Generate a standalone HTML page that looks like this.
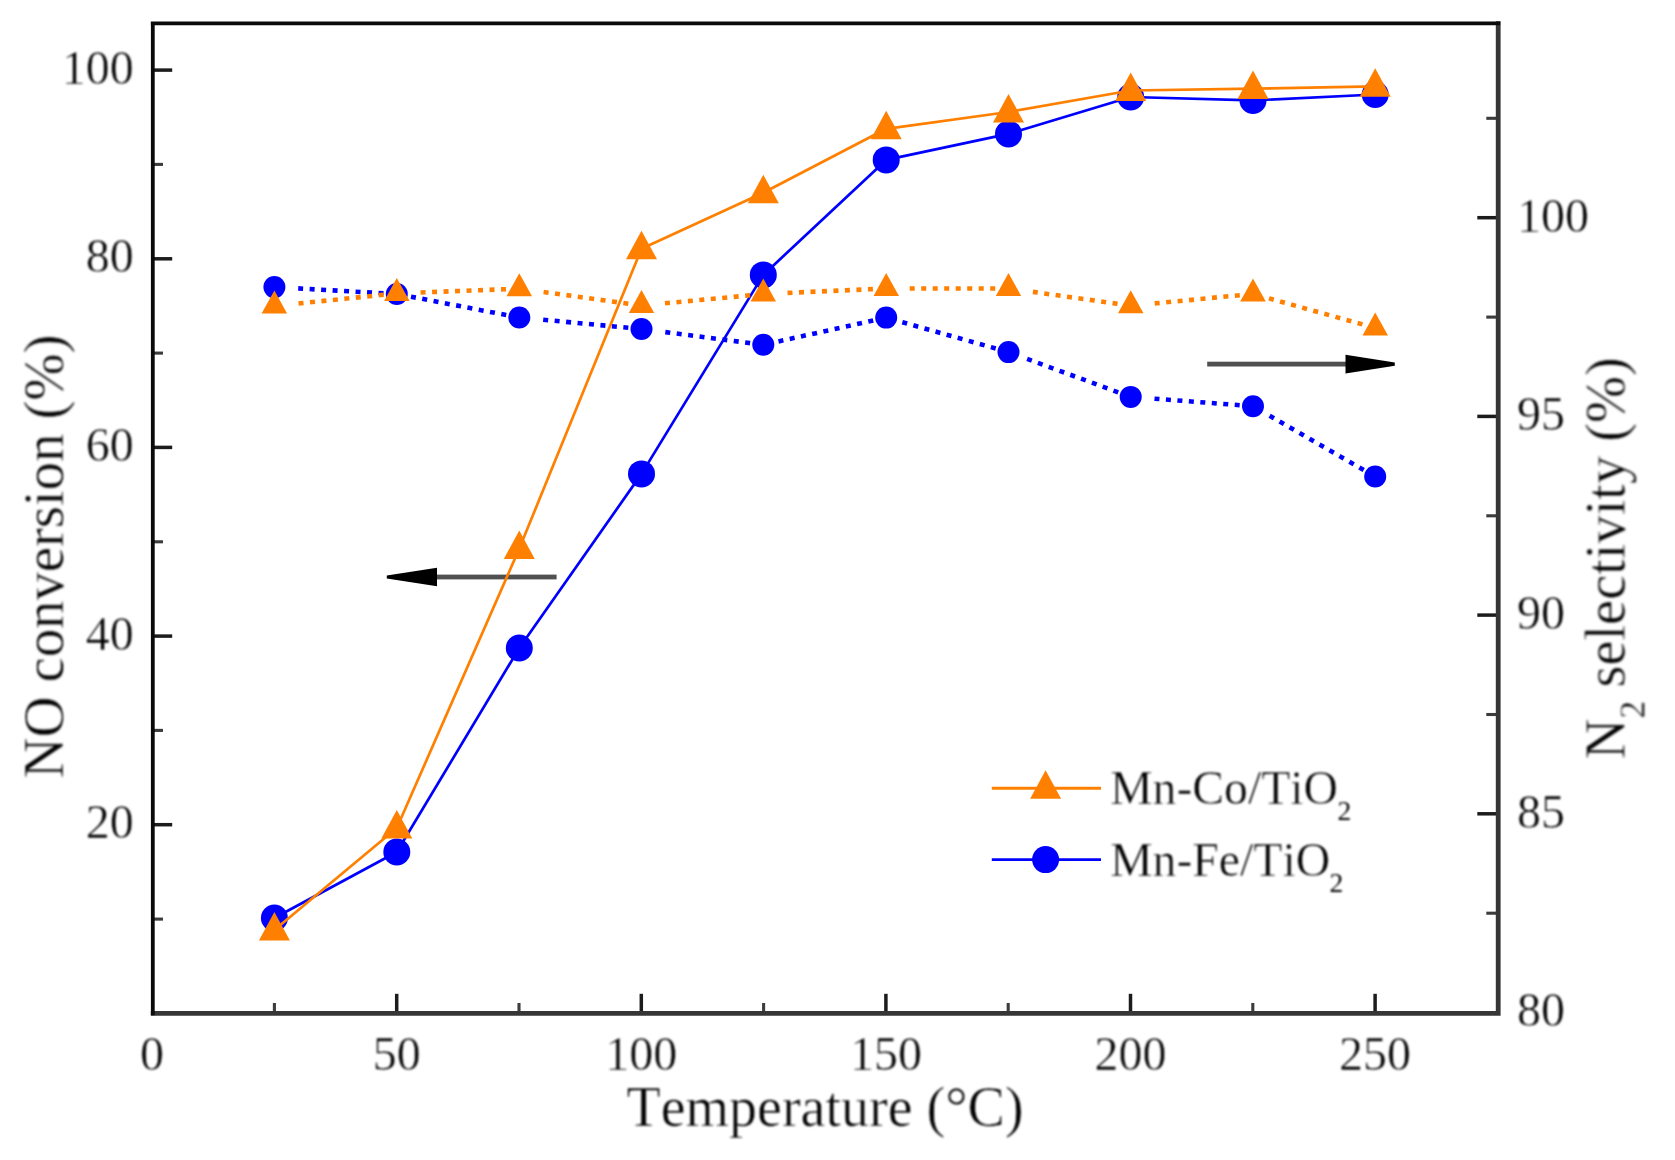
<!DOCTYPE html>
<html lang="en"><head><meta charset="utf-8"><title>NO conversion and N2 selectivity vs temperature</title>
<style>
html,body{margin:0;padding:0;background:#fff;}
body{width:1675px;height:1160px;overflow:hidden;}
svg{display:block;}
#labels{filter:blur(0.8px);}
</style></head><body>
<svg width="1675" height="1160" viewBox="0 0 1675 1160">
<rect width="1675" height="1160" fill="#fff"/>
<g id="chart">
<g stroke="#1c1c1c" stroke-width="3.5" fill="none">
<line x1="152.8" y1="824.7" x2="172.2" y2="824.7"/>
<line x1="152.8" y1="636.1" x2="172.2" y2="636.1"/>
<line x1="152.8" y1="447.4" x2="172.2" y2="447.4"/>
<line x1="152.8" y1="258.8" x2="172.2" y2="258.8"/>
<line x1="152.8" y1="70.1" x2="172.2" y2="70.1"/>
<line x1="152.8" y1="919.1" x2="163" y2="919.1" stroke="#3c3c3c" stroke-width="3.1"/>
<line x1="152.8" y1="730.4" x2="163" y2="730.4" stroke="#3c3c3c" stroke-width="3.1"/>
<line x1="152.8" y1="541.8" x2="163" y2="541.8" stroke="#3c3c3c" stroke-width="3.1"/>
<line x1="152.8" y1="353.1" x2="163" y2="353.1" stroke="#3c3c3c" stroke-width="3.1"/>
<line x1="152.8" y1="164.4" x2="163" y2="164.4" stroke="#3c3c3c" stroke-width="3.1"/>
<line x1="1498.2" y1="813.8" x2="1477.3" y2="813.8"/>
<line x1="1498.2" y1="615.1" x2="1477.3" y2="615.1"/>
<line x1="1498.2" y1="416.4" x2="1477.3" y2="416.4"/>
<line x1="1498.2" y1="217.7" x2="1477.3" y2="217.7"/>
<line x1="1498.2" y1="913.2" x2="1486.3" y2="913.2" stroke="#3c3c3c" stroke-width="3.1"/>
<line x1="1498.2" y1="714.5" x2="1486.3" y2="714.5" stroke="#3c3c3c" stroke-width="3.1"/>
<line x1="1498.2" y1="515.8" x2="1486.3" y2="515.8" stroke="#3c3c3c" stroke-width="3.1"/>
<line x1="1498.2" y1="317.1" x2="1486.3" y2="317.1" stroke="#3c3c3c" stroke-width="3.1"/>
<line x1="1498.2" y1="118.3" x2="1486.3" y2="118.3" stroke="#3c3c3c" stroke-width="3.1"/>
<line x1="396.7" y1="1013.3" x2="396.7" y2="993.8"/>
<line x1="641.3" y1="1013.3" x2="641.3" y2="993.8"/>
<line x1="885.9" y1="1013.3" x2="885.9" y2="993.8"/>
<line x1="1130.5" y1="1013.3" x2="1130.5" y2="993.8"/>
<line x1="1375.1" y1="1013.3" x2="1375.1" y2="993.8"/>
<line x1="274.4" y1="1013.3" x2="274.4" y2="1003" stroke="#3c3c3c" stroke-width="3.1"/>
<line x1="519.0" y1="1013.3" x2="519.0" y2="1003" stroke="#3c3c3c" stroke-width="3.1"/>
<line x1="763.6" y1="1013.3" x2="763.6" y2="1003" stroke="#3c3c3c" stroke-width="3.1"/>
<line x1="1008.2" y1="1013.3" x2="1008.2" y2="1003" stroke="#3c3c3c" stroke-width="3.1"/>
<line x1="1252.8" y1="1013.3" x2="1252.8" y2="1003" stroke="#3c3c3c" stroke-width="3.1"/>
</g>
<path d="M1498.2 21.3V1013.3M150.8 1013.3H1500.6000000000001" fill="none" stroke="#363636" stroke-width="4.8"/>
<path d="M152.8 1015.3V23.3M150.8 23.3H1500.2" fill="none" stroke="#0a0a0a" stroke-width="3.8"/>
<g fill="#000" stroke="none">
<rect x="436" y="574.6" width="120.6" height="4.8" fill="#505050"/>
<polygon points="386.8,575.4 386.8,578.6 437,586.2 437,567.8"/>
<rect x="1207.2" y="361.7" width="139" height="4.8" fill="#505050"/>
<polygon points="1394.8,362.5 1394.8,365.7 1345.5,373.4 1345.5,354.8"/>
</g>
<polyline points="274.4,918.0 396.8,852.0 519.3,648.0 641.5,473.9 763.3,274.9 886.2,159.9 1008.5,133.9 1130.7,97.0 1253.0,100.4 1375.2,94.5" fill="none" stroke="#0000FF" stroke-width="2.7" stroke-linejoin="round"/>
<circle cx="274.4" cy="918.0" r="13.5" fill="#0000FF"/>
<circle cx="396.8" cy="852.0" r="13.5" fill="#0000FF"/>
<circle cx="519.3" cy="648.0" r="13.5" fill="#0000FF"/>
<circle cx="641.5" cy="473.9" r="13.5" fill="#0000FF"/>
<circle cx="763.3" cy="274.9" r="13.5" fill="#0000FF"/>
<circle cx="886.2" cy="159.9" r="13.5" fill="#0000FF"/>
<circle cx="1008.5" cy="133.9" r="13.5" fill="#0000FF"/>
<circle cx="1130.7" cy="97.0" r="13.5" fill="#0000FF"/>
<circle cx="1253.0" cy="100.4" r="13.5" fill="#0000FF"/>
<circle cx="1375.2" cy="94.5" r="13.5" fill="#0000FF"/>
<polyline points="274.4,930.0 396.8,828.0 519.3,548.6 641.5,248.8 763.3,192.8 886.2,128.8 1008.5,112.0 1130.7,90.5 1253.0,88.7 1375.2,86.4" fill="none" stroke="#FF8000" stroke-width="2.7" stroke-linejoin="round"/>
<polygon points="274.4,911.9 258.9,940.4 289.9,940.4" fill="#FF8000"/>
<polygon points="396.8,809.9 381.3,838.4 412.3,838.4" fill="#FF8000"/>
<polygon points="519.3,530.5 503.8,559.0 534.8,559.0" fill="#FF8000"/>
<polygon points="641.5,230.7 626.0,259.2 657.0,259.2" fill="#FF8000"/>
<polygon points="763.3,174.7 747.8,203.2 778.8,203.2" fill="#FF8000"/>
<polygon points="886.2,110.7 870.7,139.2 901.7,139.2" fill="#FF8000"/>
<polygon points="1008.5,93.9 993.0,122.4 1024.0,122.4" fill="#FF8000"/>
<polygon points="1130.7,72.4 1115.2,100.9 1146.2,100.9" fill="#FF8000"/>
<polygon points="1253.0,70.6 1237.5,99.1 1268.5,99.1" fill="#FF8000"/>
<polygon points="1375.2,68.3 1359.7,96.8 1390.7,96.8" fill="#FF8000"/>
<g stroke="#0000FF" stroke-width="4.6" stroke-dasharray="5 6.5" fill="none"><line x1="383.5" y1="293.3" x2="298.2" y2="288.4"/><line x1="506.2" y1="315.0" x2="411.0" y2="296.7"/><line x1="628.3" y1="327.8" x2="543.1" y2="319.7"/><line x1="750.1" y1="343.1" x2="665.3" y2="332.1"/><line x1="873.2" y1="320.5" x2="778.5" y2="341.4"/><line x1="995.7" y1="348.5" x2="902.3" y2="322.2"/><line x1="1118.2" y1="392.3" x2="1027.1" y2="358.9"/><line x1="1239.7" y1="405.2" x2="1154.5" y2="398.7"/><line x1="1363.7" y1="469.9" x2="1269.6" y2="415.8"/></g>
<circle cx="274.4" cy="287.1" r="11" fill="#0000FF"/>
<circle cx="396.8" cy="294.0" r="11" fill="#0000FF"/>
<circle cx="519.3" cy="317.5" r="11" fill="#0000FF"/>
<circle cx="641.5" cy="329.0" r="11" fill="#0000FF"/>
<circle cx="763.3" cy="344.8" r="11" fill="#0000FF"/>
<circle cx="886.2" cy="317.6" r="11" fill="#0000FF"/>
<circle cx="1008.5" cy="352.1" r="11" fill="#0000FF"/>
<circle cx="1130.7" cy="396.9" r="11" fill="#0000FF"/>
<circle cx="1253.0" cy="406.2" r="11" fill="#0000FF"/>
<circle cx="1375.2" cy="476.5" r="11" fill="#0000FF"/>
<g stroke="#FF8000" stroke-width="4.6" stroke-dasharray="5 6.5" fill="none"><line x1="383.6" y1="294.8" x2="298.5" y2="303.5"/><line x1="506.0" y1="289.2" x2="420.6" y2="292.5"/><line x1="628.3" y1="303.7" x2="543.6" y2="292.0"/><line x1="750.1" y1="295.3" x2="664.9" y2="303.3"/><line x1="872.9" y1="289.1" x2="787.5" y2="292.9"/><line x1="995.2" y1="288.5" x2="909.7" y2="288.5"/><line x1="1117.5" y1="303.8" x2="1032.9" y2="291.9"/><line x1="1239.8" y1="295.2" x2="1154.7" y2="303.4"/><line x1="1362.4" y1="324.4" x2="1269.0" y2="298.4"/></g>
<polygon points="274.4,290.5 261.6,313.5 287.1,313.5" fill="#FF8000"/>
<polygon points="396.8,277.9 384.1,300.9 409.6,300.9" fill="#FF8000"/>
<polygon points="519.3,273.2 506.5,296.2 532.0,296.2" fill="#FF8000"/>
<polygon points="641.5,290.0 628.8,313.0 654.2,313.0" fill="#FF8000"/>
<polygon points="763.3,278.5 750.5,301.5 776.0,301.5" fill="#FF8000"/>
<polygon points="886.2,273.0 873.5,296.0 899.0,296.0" fill="#FF8000"/>
<polygon points="1008.5,273.0 995.8,296.0 1021.2,296.0" fill="#FF8000"/>
<polygon points="1130.7,290.2 1118.0,313.2 1143.5,313.2" fill="#FF8000"/>
<polygon points="1253.0,278.4 1240.2,301.4 1265.8,301.4" fill="#FF8000"/>
<polygon points="1375.2,312.5 1362.5,335.5 1388.0,335.5" fill="#FF8000"/>
<line x1="991.8" y1="788.3" x2="1101" y2="788.3" stroke="#FF8000" stroke-width="2.9"/>
<polygon points="1045.6,770.3 1030.1,798.8 1061.1,798.8" fill="#FF8000"/>
<line x1="991.8" y1="859.6" x2="1101" y2="859.6" stroke="#0000FF" stroke-width="2.9"/>
<circle cx="1045.6" cy="859.6" r="13.5" fill="#0000FF"/>
<g id="labels" font-family="'Liberation Serif', 'Times New Roman', serif" fill="#000" stroke="#fff" stroke-width="0.55" style="font-kerning:none;paint-order:fill stroke">
<g font-size="48" text-anchor="middle">
<text x="152.1" y="1070">0</text>
<text x="396.7" y="1070">50</text>
<text x="641.3" y="1070">100</text>
<text x="885.9" y="1070">150</text>
<text x="1130.5" y="1070">200</text>
<text x="1375.1" y="1070">250</text>
</g>
<g font-size="48" text-anchor="end">
<text x="133.8" y="838.1">20</text>
<text x="133.8" y="649.5">40</text>
<text x="133.8" y="460.8">60</text>
<text x="133.8" y="272.2">80</text>
<text x="133.8" y="83.5">100</text>
</g>
<g font-size="48" text-anchor="start">
<text x="1517" y="1026.4">80</text>
<text x="1517" y="827.7">85</text>
<text x="1517" y="629.0">90</text>
<text x="1517" y="430.3">95</text>
<text x="1517" y="231.6">100</text>
</g>
<text x="825" y="1126" font-size="56" text-anchor="middle">Temperature (°C)</text>
<text transform="translate(63,556.4) rotate(-90)" font-size="56.7" text-anchor="middle">NO conversion (%)</text>
<text transform="translate(1624.5,558.3) rotate(-90)" font-size="56.4" text-anchor="middle">N<tspan font-size="35.5" dy="20" stroke-width="0.3">2</tspan><tspan dy="-20" dx="-0.8"> selectivity (%)</tspan></text>
<text x="1110.2" y="804.4" font-size="47.7">Mn-Co/TiO<tspan font-size="27.5" dy="15.8" dx="-0.6" stroke="none">2</tspan></text>
<text x="1110.2" y="876.2" font-size="47.7">Mn-Fe/TiO<tspan font-size="27.5" dy="15.8" dx="-0.6" stroke="none">2</tspan></text>
</g>
</g>
</svg>
</body></html>
